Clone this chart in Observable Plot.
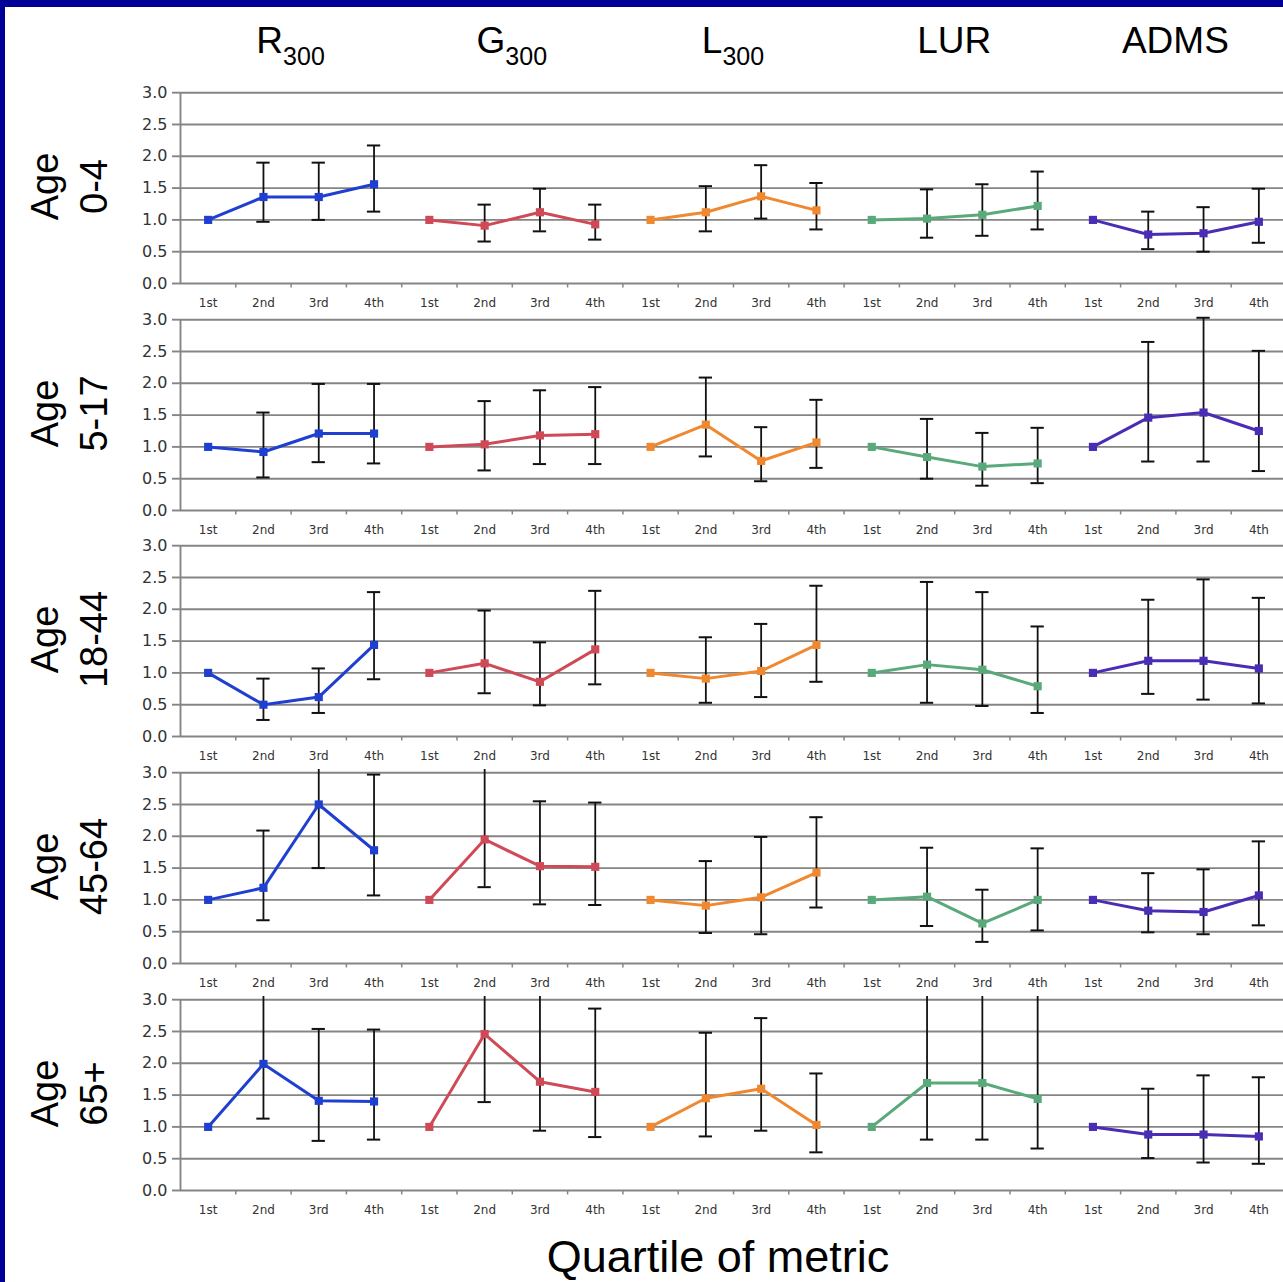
<!DOCTYPE html>
<html>
<head>
<meta charset="utf-8">
<script src="https://cdn.jsdelivr.net/npm/d3@7"></script>
<script src="https://cdn.jsdelivr.net/npm/@observablehq/plot@0.6"></script>
<style>
html, body { margin: 0; padding: 0; background: #fff; overflow: hidden; }
#page { position: relative; width: 1283px; height: 1282px; overflow: hidden; background: #fff; font-family: "Liberation Sans", Arial, sans-serif; }
.bar-top { position: absolute; left: 0; top: 0; width: 1283px; height: 7px; background: #000096; z-index: 5; }
.bar-left { position: absolute; left: 0; top: 0; width: 5px; height: 1282px; background: #000096; z-index: 5; }
.title { position: absolute; top: 21.7px; font-size: 37px; line-height: 37px; white-space: nowrap; transform: translateX(-50%); color: #000; }
.title span { font-size: 25px; position: relative; top: 12px; }
.row { position: absolute; left: 0; }
#xlabel { position: absolute; left: 718px; top: 1234px; transform: translateX(-50%); font-size: 45px; line-height: 45px; white-space: nowrap; color: #000; }
</style>
</head>
<body>
<div id="page">
  <div class="bar-top"></div>
  <div class="bar-left"></div>
</div>
<script>
// ---------------- data ----------------
const metrics = ["R300", "G300", "L300", "LUR", "ADMS"];
const metricMain = ["R", "G", "L", "LUR", "ADMS"];
const metricSub = ["300", "300", "300", "", ""];
const quartiles = ["1st", "2nd", "3rd", "4th"];
const ageGroups = ["0-4", "5-17", "18-44", "45-64", "65+"];
const colors = ["#1f3fd0", "#cf4a56", "#f08830", "#5aa97a", "#4a2db4"];
const yTicks = [0, 0.5, 1, 1.5, 2, 2.5, 3];

// estimates per age group: R300 | G300 | L300 | LUR | ADMS (quartiles 1st..4th)
const est_0_4   = [1, 1.36, 1.36, 1.56,  1, 0.91, 1.12, 0.93,  1, 1.12, 1.37, 1.15,  1, 1.02, 1.08, 1.22,  1, 0.77, 0.79, 0.97];
const lo_0_4    = [null, 0.97, 1.00, 1.13,  null, 0.66, 0.82, 0.69,  null, 0.82, 1.02, 0.85,  null, 0.72, 0.75, 0.85,  null, 0.54, 0.50, 0.64];
const hi_0_4    = [null, 1.90, 1.90, 2.17,  null, 1.24, 1.49, 1.24,  null, 1.53, 1.86, 1.58,  null, 1.48, 1.56, 1.76,  null, 1.13, 1.20, 1.49];

const est_5_17  = [1, 0.92, 1.21, 1.21,  1, 1.04, 1.18, 1.20,  1, 1.35, 0.78, 1.07,  1, 0.84, 0.69, 0.74,  1, 1.46, 1.54, 1.25];
const lo_5_17   = [null, 0.52, 0.76, 0.74,  null, 0.63, 0.73, 0.73,  null, 0.85, 0.46, 0.67,  null, 0.50, 0.39, 0.43,  null, 0.77, 0.77, 0.62];
const hi_5_17   = [null, 1.54, 1.99, 1.99,  null, 1.72, 1.89, 1.94,  null, 2.09, 1.31, 1.74,  null, 1.44, 1.22, 1.30,  null, 2.65, 3.03, 2.51];

const est_18_44 = [1, 0.50, 0.62, 1.44,  1, 1.15, 0.86, 1.37,  1, 0.91, 1.03, 1.44,  1, 1.13, 1.05, 0.79,  1, 1.19, 1.19, 1.07];
const lo_18_44  = [null, 0.26, 0.37, 0.90,  null, 0.68, 0.49, 0.82,  null, 0.53, 0.62, 0.86,  null, 0.53, 0.48, 0.37,  null, 0.67, 0.58, 0.52];
const hi_18_44  = [null, 0.91, 1.07, 2.27,  null, 1.98, 1.48, 2.29,  null, 1.56, 1.77, 2.37,  null, 2.43, 2.27, 1.73,  null, 2.15, 2.47, 2.18];

const est_45_64 = [1, 1.19, 2.50, 1.78,  1, 1.95, 1.53, 1.52,  1, 0.91, 1.04, 1.43,  1, 1.05, 0.63, 1.00,  1, 0.83, 0.81, 1.07];
const lo_45_64  = [null, 0.68, 1.50, 1.07,  null, 1.20, 0.93, 0.92,  null, 0.48, 0.46, 0.88,  null, 0.59, 0.34, 0.52,  null, 0.49, 0.46, 0.60];
const hi_45_64  = [null, 2.09, 3.60, 2.97,  null, 3.20, 2.55, 2.53,  null, 1.61, 1.99, 2.30,  null, 1.82, 1.16, 1.81,  null, 1.42, 1.48, 1.92];

const est_65    = [1, 1.99, 1.41, 1.40,  1, 2.46, 1.71, 1.55,  1, 1.45, 1.60, 1.03,  1, 1.69, 1.69, 1.44,  1, 0.88, 0.88, 0.85];
const lo_65     = [null, 1.13, 0.78, 0.80,  null, 1.39, 0.94, 0.84,  null, 0.85, 0.94, 0.60,  null, 0.80, 0.80, 0.66,  null, 0.51, 0.44, 0.42];
const hi_65     = [null, 3.40, 2.54, 2.53,  null, 4.30, 3.10, 2.86,  null, 2.48, 2.71, 1.84,  null, 3.50, 3.50, 3.10,  null, 1.60, 1.81, 1.78];

const rowsInput = [
  [est_0_4, lo_0_4, hi_0_4],
  [est_5_17, lo_5_17, hi_5_17],
  [est_18_44, lo_18_44, hi_18_44],
  [est_45_64, lo_45_64, hi_45_64],
  [est_65, lo_65, hi_65]
];

// ---------------- layout ----------------
const W = 1283, left = 180, right = -3;
const step = (W - right - left) / 20;
const cats = metrics.flatMap(m => quartiles.map(q => m + "|" + q));
const page = document.getElementById("page");

// column titles
metrics.forEach((m, k) => {
  const d = document.createElement("div");
  d.className = "title";
  d.style.left = (left + (4 * k + 2) * step) + "px";
  d.innerHTML = metricMain[k] + (metricSub[k] ? "<span>" + metricSub[k] + "</span>" : "");
  page.appendChild(d);
});

const grey = "#858585";
rowsInput.forEach(([est, lo, hi], r) => {
  const data = cats.map((c, i) => ({cat: c, metric: metrics[Math.floor(i / 4)], est: est[i], lo: lo[i], hi: hi[i]}));
  const withCI = data.filter(d => d.lo != null);
  const chart = Plot.plot({
    width: W, height: 227,
    marginLeft: left, marginRight: right, marginTop: 8, marginBottom: 25,
    style: {background: "transparent", fontFamily: "DejaVu Sans", overflow: "visible"},
    x: {type: "band", domain: cats, padding: 0, round: false, axis: null},
    y: {domain: [0, 3.05], axis: null},
    color: {domain: metrics, range: colors},
    marks: [
      Plot.gridY(yTicks, {stroke: grey, strokeOpacity: 1, strokeWidth: 1.9}),
      Plot.axisY(yTicks, {tickSize: 8, tickPadding: 5, tickFormat: d => d.toFixed(1), fontSize: 16, stroke: grey, fill: "#333", strokeWidth: 1.9}),
      Plot.axisX({tickSize: 0, tickPadding: 15, tickFormat: d => d.split("|")[1], fontSize: 12, fill: "#333", label: null}),
      Plot.ruleX([cats[0]], {x: d => d, y1: 0, y2: 3, dx: -step / 2, stroke: grey, strokeWidth: 1.9}),
      Plot.ruleX(cats.slice(1), {x: d => d, y1: 0, y2: -0.07, dx: -step / 2, stroke: grey, strokeWidth: 1.5}),
      Plot.ruleX(withCI, {x: "cat", y1: "lo", y2: "hi", stroke: "#111", strokeWidth: 1.8, clip: true}),
      Plot.tickY(withCI, {x: "cat", y: "lo", stroke: "#111", strokeWidth: 2, insetLeft: 21, insetRight: 21, clip: true}),
      Plot.tickY(withCI, {x: "cat", y: "hi", stroke: "#111", strokeWidth: 2, insetLeft: 21, insetRight: 21, clip: true}),
      Plot.line(data, {x: "cat", y: "est", z: "metric", stroke: "metric", strokeWidth: 3}),
      Plot.dot(data, {x: "cat", y: "est", fill: "metric", symbol: "square", r: 4.6}),
      Plot.text([ageGroups[r]], {text: d => "Age\n" + d, frameAnchor: "left", dx: -114, rotate: -90, textAnchor: "middle", lineAnchor: "middle", fontSize: 38, fontFamily: "Liberation Sans", lineHeight: 1.3, fill: "#000"})
    ]
  });
  const holder = document.createElement("div");
  holder.className = "row";
  holder.style.top = (80.8 + r * 226.75) + "px";
  holder.appendChild(chart);
  page.appendChild(holder);
});

const xl = document.createElement("div");
xl.id = "xlabel";
xl.textContent = "Quartile of metric";
page.appendChild(xl);
</script>
</body>
</html>
